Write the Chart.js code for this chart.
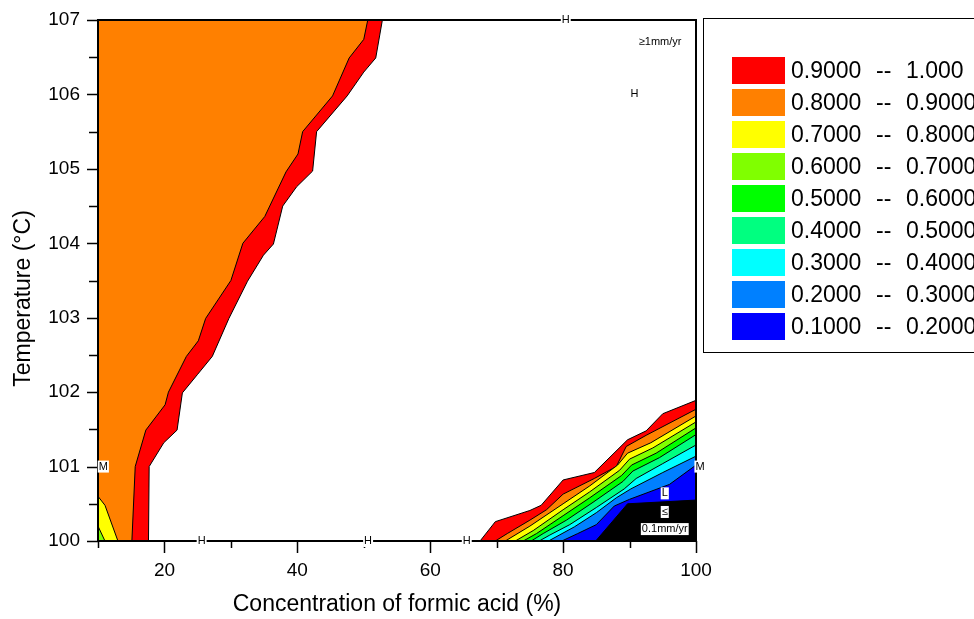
<!DOCTYPE html>
<html>
<head>
<meta charset="utf-8">
<script src="https://cdn.jsdelivr.net/npm/chart.js@4.4.1/dist/chart.umd.min.js"></script>
<style>
  html, body { margin: 0; padding: 0; background: #fff; }
</style>
</head>
<body>
<canvas id="contourChart" width="974" height="619"></canvas>
<script>
// contour levels (upper bound of each band) and the band colours
var levels = [1.0, 0.9, 0.8, 0.7, 0.6, 0.5, 0.4, 0.3, 0.2, 0.1];
var bandColors = ['#ff0000', '#ff8000', '#ffff00', '#80ff00', '#00ff00', '#00ff80', '#00ffff', '#0080ff', '#0000ff', '#000000'];

var xTickLabels = [20, 40, 60, 80, 100];
var yTickLabels = [100, 101, 102, 103, 104, 105, 106, 107];

// upper-left contours [concentration, temperature]
var left100 = [[10, 100], [17.6, 100], [17.7, 101], [19.9, 101.32], [21.9, 101.49], [22.7, 101.99], [25, 102.24], [27.2, 102.48], [29.7, 102.99], [32.5, 103.49], [34.9, 103.84], [36.4, 103.99], [37.8, 104.5], [39.9, 104.76], [42.3, 104.97], [42.9, 105.5], [47.5, 105.98], [50, 106.3], [51.8, 106.49], [52.8, 107]];
var left090 = [[10, 100], [15.1, 100], [15.6, 101], [17.2, 101.49], [20.1, 101.83], [20.6, 102.0], [23.3, 102.48], [25.1, 102.69], [26.2, 102.99], [30.0, 103.5], [31.8, 104.0], [35.1, 104.36], [38.3, 104.96], [40.1, 105.2], [40.8, 105.5], [45.3, 105.98], [47.8, 106.49], [50.0, 106.74], [50.6, 107]];
var corner080 = [[10, 100.6], [11.05, 100.48], [13, 100]];
var corner070 = [[10, 100.2], [11.05, 100]];

// lower-right contours
var right100 = [[67.5, 100], [69.8, 100.26], [75, 100.41], [76.7, 100.48], [80, 100.82], [84.7, 100.92], [89.7, 101.36], [92.5, 101.48], [95, 101.71], [100, 101.89]];
var right090 = [[69.8, 100], [71.6, 100.1], [75, 100.28], [77.5, 100.42], [80, 100.63], [84.7, 100.84], [88, 101.0], [89.5, 101.27], [92.5, 101.42], [100, 101.77]];
var right080 = [[71.3, 100], [75, 100.2], [80, 100.5], [84, 100.74], [88.2, 101.02], [89.7, 101.18], [93.2, 101.32], [100, 101.68]];
var right070 = [[72.8, 100], [75.5, 100.14], [80, 100.42], [84, 100.66], [88.5, 100.95], [90, 101.1], [93.5, 101.25], [100, 101.6]];
var right060 = [[74, 100], [76, 100.1], [80, 100.34], [84, 100.58], [88.8, 100.88], [90.3, 101.02], [94, 101.18], [100, 101.52]];
var right050 = [[75.2, 100], [77, 100.1], [80.5, 100.28], [84.5, 100.52], [89, 100.8], [90.5, 100.94], [94.5, 101.12], [100, 101.43]];
var right040 = [[76.4, 100], [78, 100.08], [81, 100.22], [85, 100.45], [89.2, 100.7], [91, 100.84], [95, 101.04], [100, 101.29]];
var right030 = [[77.8, 100], [81.7, 100.19], [85, 100.38], [88, 100.58], [90.2, 100.7], [95, 100.92], [100, 101.14]];
var right020 = [[79.8, 100], [82.2, 100.1], [85, 100.22], [87.7, 100.47], [90, 100.56], [96, 100.76], [100, 101.02]];
var right010 = [[84.9, 100], [89.7, 100.5], [100, 100.55]];

// text marks on the plot
var noteText = ['H', '\u22651mm/yr', 'H', 'M', 'M', 'L', '\u2264', '0.1mm/yr', 'H', 'H', 'H'];
var noteX = [80.4, 94.6, 90.75, 10.8, 100.6, 95.3, 95.3, 95.3, 25.6, 50.65, 65.5];
var noteY = [107, 106.7, 106, 101, 101, 100.64, 100.39, 100.16, 100, 100, 100];

var FONT = 'Arial, "Liberation Sans", sans-serif';
Chart.defaults.font.family = FONT;
Chart.defaults.color = '#000';

function contour(points, levelIndex, fillTo) {
    return {
        data: points.map(function(p) { return { x: p[0], y: p[1] }; }),
        showLine: true,
        fill: fillTo,
        backgroundColor: bandColors[levelIndex],
        borderColor: '#000',
        borderWidth: 1,
        pointRadius: 0,
        pointHoverRadius: 0,
        tension: 0
    };
}

// back to front
var datasets = [
    contour(left100, 0, 'end'),
    contour(left090, 1, 'end'),
    contour(corner080, 2, 'start'),
    contour(corner070, 3, 'start')
];
var rightLines = [right100, right090, right080, right070, right060, right050, right040, right030, right020, right010];
for (var i = 0; i < rightLines.length; i++) {
    datasets.push(contour(rightLines[i], i, 'start'));
}
for (var j = 0; j < datasets.length; j++) {
    datasets[j].order = datasets.length - j;
}

var decorPlugin = {
    id: 'decor',
    afterDatasetsDraw: function(chart) {
        var ctx = chart.ctx, a = chart.chartArea;
        var xs = chart.scales.x, ys = chart.scales.y;
        ctx.save();
        ctx.strokeStyle = '#000';
        ctx.lineWidth = 2;
        ctx.strokeRect(a.left, a.top, a.right - a.left, a.bottom - a.top);

        ctx.lineWidth = 1.5;
        ctx.beginPath();
        xs.ticks.forEach(function(t) {
            var px = Math.round(xs.getPixelForValue(t.value)) + 0.5;
            var len = xTickLabels.indexOf(t.value) >= 0 ? 12 : 7;
            ctx.moveTo(px, a.bottom);
            ctx.lineTo(px, a.bottom + len);
        });
        ys.ticks.forEach(function(t) {
            var py = Math.round(ys.getPixelForValue(t.value)) + 0.5;
            var len = yTickLabels.indexOf(t.value) >= 0 ? 11 : 9;
            ctx.moveTo(a.left - len, py);
            ctx.lineTo(a.left, py);
        });
        ctx.stroke();

        // notes
        ctx.font = '11px ' + FONT;
        ctx.textBaseline = 'middle';
        for (var k = 0; k < noteText.length; k++) {
            var nx = xs.getPixelForValue(noteX[k]);
            var ny = ys.getPixelForValue(noteY[k]);
            var w = ctx.measureText(noteText[k]).width;
            ctx.fillStyle = '#fff';
            ctx.fillRect(nx - w / 2 - 1, ny - 6, w + 2, 12);
            ctx.fillStyle = '#000';
            ctx.textAlign = 'center';
            ctx.fillText(noteText[k], nx, ny);
        }
        ctx.restore();
    },
    afterDraw: function(chart) {
        var ctx = chart.ctx, a = chart.chartArea;
        ctx.save();
        ctx.fillStyle = '#000';

        // axis titles
        ctx.font = '23px ' + FONT;
        ctx.textAlign = 'center';
        ctx.textBaseline = 'middle';
        ctx.fillText('Concentration of formic acid (%)', (a.left + a.right) / 2, a.bottom + 64);
        ctx.translate(24, (a.top + a.bottom) / 2 + 18);
        ctx.rotate(-Math.PI / 2);
        ctx.fillText('Temperature (\u00b0C)', 0, 0);
        ctx.setTransform(1, 0, 0, 1, 0, 0);

        // legend box
        var lx = a.right + 7, ly = 18;
        ctx.strokeStyle = '#000';
        ctx.lineWidth = 1;
        ctx.strokeRect(lx + 0.5, ly + 0.5, 400, 334);
        ctx.textAlign = 'left';
        for (var i = 0; i < levels.length - 1; i++) {
            var rowY = ly + 39 + i * 32;
            ctx.fillStyle = bandColors[i];
            ctx.fillRect(lx + 29, rowY, 53, 27);
            ctx.fillStyle = '#000';
            ctx.fillText(levels[i + 1].toPrecision(4), lx + 88, rowY + 15);
            ctx.fillText('--', lx + 173, rowY + 15);
            ctx.fillText(levels[i].toPrecision(4), lx + 203, rowY + 15);
        }
        ctx.restore();
    }
};

new Chart(document.getElementById('contourChart'), {
    type: 'scatter',
    data: { datasets: datasets },
    options: {
        responsive: false,
        animation: false,
        layout: { padding: { top: 20, right: 278, left: 0, bottom: 0 } },
        plugins: {
            legend: { display: false },
            tooltip: { enabled: false },
            filler: { propagate: false }
        },
        scales: {
            x: {
                type: 'linear',
                min: 10,
                max: 100,
                afterFit: function(scale) {
                    scale.height = 78;
                    scale.paddingLeft = 0;
                    scale.paddingRight = 0;
                },
                grid: { display: false, drawTicks: false },
                border: { display: false },
                ticks: {
                    stepSize: 10,
                    autoSkip: false,
                    maxRotation: 0,
                    padding: 18,
                    font: { size: 19 },
                    callback: function(v) { return xTickLabels.indexOf(v) >= 0 ? String(v) : ''; }
                }
            },
            y: {
                type: 'linear',
                min: 100,
                max: 107,
                afterFit: function(scale) {
                    scale.width = 98;
                    scale.paddingTop = 0;
                    scale.paddingBottom = 0;
                },
                grid: { display: false, drawTicks: false },
                border: { display: false },
                ticks: {
                    stepSize: 0.5,
                    autoSkip: false,
                    padding: 18,
                    font: { size: 19 },
                    callback: function(v) { return yTickLabels.indexOf(v) >= 0 ? String(v) : ''; }
                }
            }
        }
    },
    plugins: [decorPlugin]
});
</script>
</body>
</html>
